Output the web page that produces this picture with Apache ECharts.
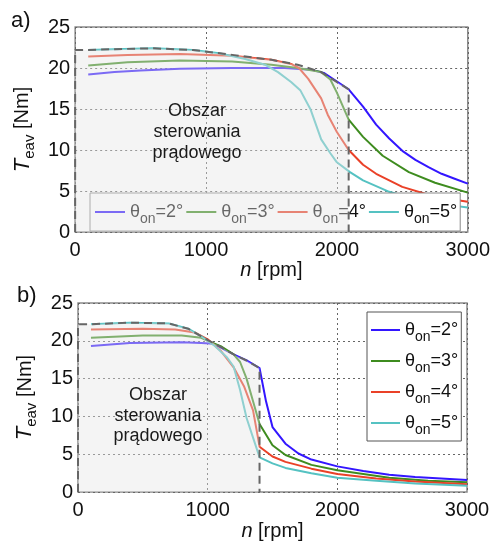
<!DOCTYPE html>
<html>
<head>
<meta charset="utf-8">
<script src="https://cdn.jsdelivr.net/npm/echarts@6/dist/echarts.min.js"></script>
<style>
html, body { margin: 0; padding: 0; background: #fff; }
#main { width: 493px; height: 542px; }
</style>
</head>
<body>
<div id="main"></div>
<script>
// names of the four curves
var names = ["θon=2°", "θon=3°", "θon=4°", "θon=5°"];
var colors = ["#3316ff", "#3e8c1f", "#ea4128", "#55c2c2"];

// a) [n rpm, T Nm]
var a2 = [[100,19.2],[300,19.5],[500,19.7],[800,19.9],[1200,20.0],[1600,20.0],[1800,19.8],[1900,19.4],[2090,17.4],[2200,15.3],[2300,13.1],[2400,11.4],[2500,9.9],[2600,8.8],[2700,7.9],[2800,7.1],[2900,6.5],[3000,5.9]];
var a3 = [[100,20.3],[400,20.7],[800,20.9],[1200,20.8],[1500,20.4],[1700,20.0],[1880,19.5],[1950,18.6],[2000,17.0],[2090,13.7],[2200,11.6],[2350,9.3],[2550,7.3],[2750,6.0],[3000,4.8]];
var a4 = [[100,21.4],[400,21.6],[800,21.7],[1200,21.5],[1500,21.0],[1650,20.5],[1710,20.0],[1780,18.7],[1880,16.3],[1930,14.3],[2000,12.2],[2090,10.0],[2200,8.2],[2300,7.1],[2500,5.5],[2750,4.3],[3000,3.7]];
var a5 = [[100,22.2],[300,22.3],[600,22.4],[900,22.2],[1100,21.8],[1300,21.1],[1450,20.4],[1550,19.5],[1650,18.3],[1720,17.3],[1800,14.9],[1880,11.3],[1950,9.6],[2000,8.5],[2100,7.3],[2200,6.3],[2400,4.9],[2600,4.0],[2800,3.4],[3000,3.0]];
var aZone = [[0,0],[0,22.2],[100,22.2],[300,22.3],[600,22.4],[900,22.2],[1200,21.6],[1500,21.0],[1700,20.4],[1880,19.5],[2090,17.4],[2090,0]];

// b)
var b2 = [[100,19.3],[400,19.7],[800,19.8],[950,19.7],[1050,19.6],[1100,19.1],[1200,18.2],[1300,17.4],[1400,16.4],[1450,12.0],[1500,8.6],[1600,6.4],[1700,5.1],[1800,4.3],[2000,3.4],[2200,2.8],[2400,2.3],[2600,2.0],[2800,1.8],[3000,1.6]];
var b3 = [[100,20.4],[500,20.7],[800,20.7],[950,20.4],[1000,20.0],[1100,19.3],[1200,18.2],[1250,17.2],[1300,15.0],[1350,12.0],[1400,9.0],[1500,6.2],[1600,4.9],[1800,3.6],[2000,2.9],[2200,2.4],[2400,1.9],[2700,1.5],[3000,1.3]];
var b4 = [[100,21.5],[500,21.6],[750,21.5],[900,21.1],[1000,20.2],[1100,18.7],[1200,16.5],[1280,14.0],[1350,10.8],[1390,7.0],[1400,6.0],[1500,4.7],[1600,4.0],[1800,3.1],[2000,2.4],[2300,1.8],[2600,1.4],[3000,1.05]];
var b5 = [[100,22.2],[400,22.4],[700,22.3],[850,21.6],[950,20.6],[1050,19.4],[1150,17.8],[1200,16.6],[1250,13.5],[1300,9.8],[1350,7.2],[1400,4.6],[1500,3.8],[1600,3.2],[1800,2.5],[2000,1.9],[2300,1.5],[2600,1.15],[3000,0.85]];
var bZone = [[0,0],[0,22.2],[100,22.2],[400,22.4],[700,22.3],[850,21.6],[1000,20.1],[1100,19.2],[1200,18.2],[1300,17.4],[1400,16.4],[1400,0]];

var zoneText = "Obszar\nsterowania\nprądowego";

var chart = echarts.init(document.getElementById("main"));

var font = "'Liberation Sans', Arial, sans-serif";
var richSub = {
	t: { fontSize: 18, fontFamily: font, color: "#111", lineHeight: 24 },
	s: { fontSize: 14, fontFamily: font, color: "#111", lineHeight: 12, padding: [14, 0, 0, 0] }
};

function legendFmt(name) {
	return "{t|θ}{s|on}{t|" + name.slice(3) + "}";
}

function xAxis(i) {
	return {
		gridIndex: i, type: "value", min: 0, max: 3000, interval: 1000,
		name: "{i|n} [rpm]", nameLocation: "middle", nameGap: 19,
		nameTextStyle: { fontSize: 20, fontFamily: font, color: "#111",
			rich: { i: { fontSize: 20, fontStyle: "italic", fontFamily: font, color: "#111" } } },
		axisLine: { show: false },
		axisTick: { show: false },
		axisLabel: { fontSize: 20, fontFamily: font, color: "#111", margin: 8,
			formatter: function (v) { return String(v); } },
		splitLine: { show: true, lineStyle: { color: "#666", type: [2, 3], width: 1 } }
	};
}
function yAxis(i) {
	return {
		gridIndex: i, type: "value", min: 0, max: 25, interval: 5,
		name: "{i|T}{s|eav} [Nm]", nameLocation: "middle", nameGap: 37,
		nameTextStyle: { fontSize: 20, fontFamily: font, color: "#111",
			rich: {
				i: { fontSize: 22, fontStyle: "italic", fontFamily: font, color: "#111", lineHeight: 24 },
				s: { fontSize: 15, fontFamily: font, color: "#111", lineHeight: 12, padding: [14, 0, 0, 0] }
			} },
		axisLine: { show: false },
		axisTick: { show: false },
		axisLabel: { fontSize: 20, fontFamily: font, color: "#111", margin: 5 },
		splitLine: { show: true, lineStyle: { color: "#666", type: [2, 3], width: 1 } }
	};
}

function curves(data, i) {
	return data.map(function (d, k) {
		return {
			name: names[k], type: "line", xAxisIndex: i, yAxisIndex: i,
			data: d, symbol: "none", z: 3,
			lineStyle: { color: colors[k], width: 2 }, itemStyle: { color: colors[k] }
		};
	});
}
function zone(d, i) {
	return {
		name: "zone" + i, type: "line", xAxisIndex: i, yAxisIndex: i, data: d,
		symbol: "none", silent: true, z: 10,
		lineStyle: { color: "#666", width: 2, type: [8, 5] },
		areaStyle: { color: "rgba(228,228,228,0.58)", origin: 0 }
	};
}

var series = []
	.concat(curves([a2, a3, a4, a5], 0))
	.concat(curves([b2, b3, b4, b5], 1))
	.concat([zone(aZone, 0), zone(bZone, 1)]);

option = {
	animation: false,
	backgroundColor: "#fff",
	grid: [
		{ left: 73, top: 27, width: 399, height: 205, show: true, borderColor: "#8a8a8a", borderWidth: 1.5 },
		{ left: 78, top: 303, width: 389, height: 195, show: true, borderColor: "#8a8a8a", borderWidth: 1.5 }
	],
	xAxis: [xAxis(0), xAxis(1)],
	yAxis: [yAxis(0), yAxis(1)],
	legend: [
		{
			data: names, orient: "horizontal", left: 90, top: 193,
			icon: "rect", itemWidth: 30, itemHeight: 2, itemGap: 3, padding: [5, 3, 5, 5],
			backgroundColor: "#fff", borderColor: "#888", borderWidth: 1, z: 4,
			formatter: legendFmt, textStyle: { rich: richSub }
		},
		{
			data: names, orient: "vertical", left: 367, top: 312,
			icon: "rect", itemWidth: 29, itemHeight: 2, itemGap: 3, padding: [4, 3, 4, 4],
			backgroundColor: "#fff", borderColor: "#555", borderWidth: 1, z: 4,
			formatter: legendFmt, textStyle: { rich: richSub }
		}
	],
	graphic: [
		{ type: "text", left: 11, top: 10, z: 20, style: { text: "a)", fontSize: 22, fontFamily: font, fill: "#111" } },
		{ type: "text", left: 17, top: 285, z: 20, style: { text: "b)", fontSize: 22, fontFamily: font, fill: "#111" } },
		{ type: "text", x: 197, y: 101, z: 20, style: { text: zoneText, fontSize: 18, fontFamily: font, fill: "#1a1a1a", align: "center", lineHeight: 21 } },
		{ type: "text", x: 158, y: 385, z: 20, style: { text: zoneText, fontSize: 18, fontFamily: font, fill: "#1a1a1a", align: "center", lineHeight: 20.5 } }
	],
	series: series
};
chart.setOption(option);
window.addEventListener("resize", chart.resize);
</script>
</body>
</html>
